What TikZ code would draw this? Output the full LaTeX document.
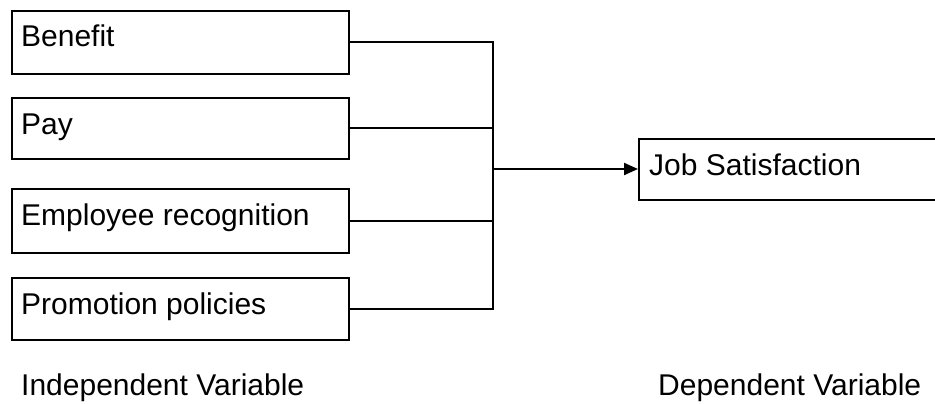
\documentclass[tikz,border=0pt]{standalone}
\usepackage{fontspec}
\setmainfont{Liberation Sans}
\usetikzlibrary{arrows.meta,calc}
\begin{document}
\begin{tikzpicture}[x=1pt,y=-1pt,
  box/.style={draw=black, line width=1.7pt, fill=white, inner sep=0pt, anchor=north west},
  lbl/.style={anchor=base west, inner sep=0pt, font=\fontsize{30}{34}\selectfont},
  conn/.style={draw=black, line width=2.2pt}]
\useasboundingbox (0,0) rectangle (935,404);
\clip (0,0) rectangle (935,404);
\fill[white] (0,0) rectangle (935,404);
% independent variable boxes
\node[box, minimum width=337pt, minimum height=63pt] (b1) at (11,10) {};
\node[box, minimum width=337pt, minimum height=61pt] (b2) at (11,97) {};
\node[box, minimum width=337pt, minimum height=64pt] (b3) at (11,188) {};
\node[box, minimum width=337pt, minimum height=62pt] (b4) at (11,277) {};
\node[lbl] (t1) at (21,47) {Benefit};
\node[lbl] (t2) at (21,134) {Pay};
\node[lbl] (t3) at (21,225) {Employee recognition};
\node[lbl] (t4) at (21,314) {Promotion policies};
% dependent variable box
\node[box, minimum width=320pt, minimum height=61pt] (js) at (638,138) {};
\node[lbl] (t5) at (649,175) {Job Satisfaction};
% junction
\coordinate (jn) at (493,169);
\draw[conn] (b1.east) -- (b1.east -| jn) -- (b4.east -| jn) -- (b4.east);
\draw[conn] (b2.east) -- (b2.east -| jn);
\draw[conn] (b3.east) -- (b3.east -| jn);
\draw[conn, -{Triangle[length=14pt,width=12pt]}] (jn) -- (js.west |- jn);
% captions
\node[lbl] (c1) at (21,395) {Independent Variable};
\node[lbl] (c2) at (658,395) {Dependent Variable};
\end{tikzpicture}
\end{document}
